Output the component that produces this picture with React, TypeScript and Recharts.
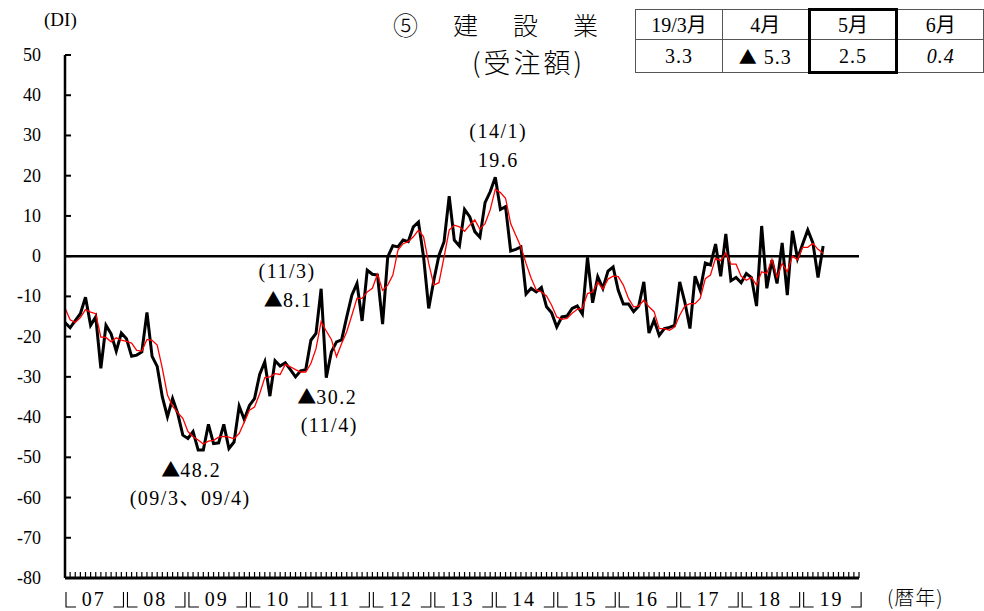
import { LineChart, Line, XAxis, YAxis, ReferenceLine, ReferenceDot } from 'recharts'

/* ── data (2007/1 〜 2019/12, monthly) ── */
const years = ['07', '08', '09', '10', '11', '12', '13', '14', '15', '16', '17', '18', '19']
const months = [1, 2, 3, 4, 5, 6, 7, 8, 9, 10, 11, 12]
const categories = years.flatMap(y => months.map(m => `${y}/${m}`))

// 受注額 DI (black)
const diValues = [
  -16.5, -17.8, -16, -14.3, -10.2, -17.2, -15.1, -27.9, -17.2, -19.3, -23.6, -19.1,
  -20.5, -24.9, -24.6, -23.8, -14, -24.9, -27.4, -35, -39.9, -35.4, -39.1, -44.5,
  -45.3, -43.6, -48.2, -48.2, -41.8, -46.6, -46.4, -41.8, -47.8, -46.2, -37.3, -40.6,
  -37.1, -35.4, -29.4, -26.3, -34.8, -26.0, -27.3, -26.5, -28.2, -30.0, -28.5, -28.2,
  -20.9, -19.2, -8.1, -30.2, -23.8, -21.3, -20.8, -15.1, -9.7, -6.8, -16.1, -3.5,
  -4.5, -4.7, -16.9, -0.2, 2.6, 2.3, 4.0, 3.6, 7.3, 8.5, -0.2, -13.0,
  -6.0, 0.2, 3.6, 14.9, 4.0, 2.5, 11.6, 9.8, 6.1, 4.7, 13.3, 16.0,
  19.6, 11.6, 12.3, 1.3, 1.7, 2.3, -9.4, -8.0, -8.9, -7.8, -12.6, -14.1,
  -17.6, -15.1, -14.9, -13.0, -12.4, -14.4, -0.3, -11.6, -5.1, -8.0, -3.7, -2.7,
  -8.5, -11.9, -11.9, -13.8, -12.4, -6.4, -19.1, -15.9, -19.7, -18.0, -17.7, -17.2,
  -6.4, -11.4, -18.0, -5.0, -8.5, -1.7, -2.2, 3.0, -5.0, 5.5, -6.1, -5.3,
  -6.6, -4.3, -5.3, -12.4, 7.5, -8.0, -1.0, -6.8, 3.3, -9.7, 6.3, -0.6,
  3.0, 6.5, 3.3, -5.3, 2.5,
]

// 3ヵ月移動平均 (red)
const avgValues = [
  -12.9, -15.8, -16.5, -15.3, -13.3, -13.9, -14.3, -20.1, -20.2, -21.3, -20.3, -20.9,
  -21.2, -21.6, -23.4, -23.6, -20.7, -20.9, -22.1, -27.9, -34.5, -37.3, -38.9, -40.3,
  -43.6, -44.9, -45.7, -46.7, -46.0, -45.8, -45.0, -44.8, -45.0, -45.4, -44.1, -41.2,
  -38.3, -37.5, -34.2, -30.2, -30.0, -29.2, -29.4, -26.9, -27.5, -28.2, -28.8, -28.8,
  -26.7, -23.0, -16.3, -18.6, -20.7, -25.0, -21.7, -18.8, -14.7, -10.5, -10.5, -8.9,
  -8.0, -4.5, -8.5, -7.2, -4.7, 1.5, 3.1, 3.6, 4.8, 6.5, 4.8, -1.8,
  -7.2, -6.6, -0.2, 6.5, 7.7, 7.3, 6.2, 7.7, 9.0, 6.7, 8.1, 11.5,
  16.6, 15.8, 14.4, 8.1, 5.2, 2.3, -1.8, -5.5, -8.4, -8.9, -9.9, -12.2,
  -15.1, -15.7, -15.5, -14.2, -13.2, -13.0, -9.3, -8.9, -6.5, -8.2, -5.7, -5.0,
  -5.1, -7.2, -10.5, -12.6, -12.4, -10.9, -12.6, -13.8, -18.0, -18.0, -18.4, -17.6,
  -14.7, -12.4, -11.8, -11.8, -10.5, -5.6, -4.7, -0.5, -1.1, 0.8, -2.0, -2.0,
  -5.0, -6.0, -5.3, -7.2, -3.9, -4.3, -0.8, -5.3, -1.8, -3.9, 0.0, -0.9,
  2.2, 2.2, 3.2, 1.7, 0.7,
]

const yTicks = [50, 40, 30, 20, 10, 0, -10, -20, -30, -40, -50, -60, -70, -80]
const tableHead = ['19/3月', '4月', '5月', '6月']
const tableVals = ['3.3', '▲ 5.3', '2.5', '0.4']

const data = categories.map((c, i) => ({
  month: c,
  di: diValues[i] ?? null,
  avg: avgValues[i] ?? null,
}))

const serif = '"Liberation Serif", "Times New Roman", "DejaVu Serif", "Noto Sans CJK JP", serif'
const cjk = '"Noto Sans CJK JP", sans-serif'
const STEP = 5.12 // px per month, only used for the year brackets

const YTick = (props: any) => {
  const { x, y, payload } = props
  return (
    <g>
      <line x1={x} y1={y} x2={x + 6} y2={y} stroke="#000" strokeWidth={2} />
      <text x={x - 24} y={y + 6} textAnchor="end" fontFamily={serif} fontSize={18} fill="#000">
        {payload.value}
      </text>
    </g>
  )
}

// monthly tick marks + "└07┘" style year labels
const XTick = (props: any) => {
  const { x, y, payload } = props
  const [yy, mm] = String(payload.value).split('/')
  const m = Number(mm)
  const top = y + 14, bot = y + 29
  return (
    <g>
      <line x1={x} y1={y} x2={x} y2={y - 6} stroke="#000" strokeWidth={1.2} />
      {m === 1 && (
        <path d={`M${x + 1},${top} V${bot} H${x + 11}`} fill="none" stroke="#000" strokeWidth={1.1} />
      )}
      {m === 7 && (
        <text x={x - 2} y={y + 28} textAnchor="middle" fontFamily={serif} fontSize={20}
          letterSpacing={2} fill="#000">{yy}</text>
      )}
      {m === 12 && (
        <path d={`M${x + STEP - 13},${bot} H${x + STEP - 3} V${top}`} fill="none" stroke="#000" strokeWidth={1.1} />
      )}
    </g>
  )
}

// "▲" is drawn in the CJK font (larger, full-width like the original)
const annot = (lines: { t: string; dx: number; dy: number }[]) => (p: any) => (
  <g>
    {lines.map((l, i) => (
      <text key={i} x={p.cx + l.dx} y={p.cy + l.dy} textAnchor="middle"
        fontFamily={serif} fontSize={20} letterSpacing={1.5} fill="#000">
        {l.t.startsWith('▲')
          ? <><tspan fontFamily={cjk} fontSize={19} letterSpacing={0}>▲</tspan>{l.t.slice(1)}</>
          : l.t}
      </text>
    ))}
  </g>
)

const cell = (extra: any = {}) => ({
  border: '1px solid #555',
  padding: 0,
  textAlign: 'center' as const,
  ...extra,
})

const cellText = (v: string) =>
  v.startsWith('▲')
    ? <><span style={{ fontFamily: cjk, fontSize: 18 }}>▲</span>{v.slice(1)}</>
    : v

export default function App() {
  const thick = '3px solid #000'
  return (
    <div style={{ position: 'absolute', left: 0, top: 0, width: 984, height: 611, background: '#fff', overflow: 'hidden' }}>
      {/* headings */}
      <div style={{ position: 'absolute', left: 44, top: 9, fontFamily: serif, fontSize: 19 }}>(DI)</div>
      <div style={{ position: 'absolute', left: 393, top: 6, fontFamily: cjk, fontWeight: 300, fontSize: 25, letterSpacing: 35, whiteSpace: 'nowrap' }}>
        ⑤建設業
      </div>
      <div style={{ position: 'absolute', left: 472, top: 42, fontFamily: cjk, fontWeight: 300, fontSize: 27, letterSpacing: 3, whiteSpace: 'nowrap' }}>
        (受注額)
      </div>
      <div style={{ position: 'absolute', left: 887, top: 582, fontFamily: cjk, fontWeight: 300, fontSize: 20, letterSpacing: 1, whiteSpace: 'nowrap' }}>
        (暦年)
      </div>

      <table style={{ position: 'absolute', left: 635, top: 8, borderCollapse: 'collapse', fontFamily: serif, fontSize: 20, tableLayout: 'fixed' }}>
        <tbody>
          <tr style={{ height: 30 }}>
            {tableHead.map((h, i) => (
              <td key={h} style={cell({
                width: i === 0 ? 88 : 87,
                lineHeight: '26px',
                ...(i === 2 ? { borderTop: thick, borderLeft: thick, borderRight: thick } : {}),
              })}>{h}</td>
            ))}
          </tr>
          <tr style={{ height: 33 }}>
            {tableVals.map((v, i) => (
              <td key={v} style={cell({
                lineHeight: '28px',
                letterSpacing: 1,
                ...(i === 2 ? { borderBottom: thick, borderLeft: thick, borderRight: thick } : {}),
                ...(i === 3 ? { fontStyle: 'italic' } : {}),
              })}>{cellText(v)}</td>
            ))}
          </tr>
        </tbody>
      </table>

      <div style={{ position: 'absolute', left: 0, top: 0 }}>
        <LineChart width={984} height={611} data={data} margin={{ top: 55, right: 125, bottom: 0, left: 0 }}>
          <XAxis dataKey="month" interval={0} height={33} tickSize={0} tickMargin={0} tickLine={false}
            axisLine={{ stroke: '#000', strokeWidth: 3 }} tick={<XTick />} />
          <YAxis domain={[-80, 50]} ticks={yTicks} width={65} tickSize={0} tickMargin={0} tickLine={false}
            axisLine={{ stroke: '#000', strokeWidth: 2.5 }} tick={<YTick />} allowDataOverflow />
          <ReferenceLine y={0} stroke="#000" strokeWidth={2.5} />
          <Line dataKey="di" type="linear" stroke="#000" strokeWidth={3} dot={false} isAnimationActive={false} />
          <Line dataKey="avg" type="linear" stroke="#ff0000" strokeWidth={1.3} dot={false} isAnimationActive={false} />
          <ReferenceDot x="14/1" y={19.6} r={1} fill="none" stroke="none"
            shape={annot([{ t: '(14/1)', dx: 3, dy: -39 }, { t: '19.6', dx: 3, dy: -10 }])} />
          <ReferenceDot x="11/3" y={-8.1} r={1} fill="none" stroke="none"
            shape={annot([{ t: '(11/3)', dx: -34, dy: -11 }, { t: '▲8.1', dx: -33, dy: 18 }])} />
          <ReferenceDot x="11/4" y={-30.2} r={1} fill="none" stroke="none"
            shape={annot([{ t: '▲30.2', dx: 1, dy: 26 }, { t: '(11/4)', dx: 3, dy: 54 }])} />
          <ReferenceDot x="09/3" y={-48.2} r={1} fill="none" stroke="none"
            shape={annot([{ t: '▲48.2', dx: -7, dy: 27 }, { t: '(09/3、09/4)', dx: -8, dy: 55 }])} />
        </LineChart>
      </div>
    </div>
  )
}
